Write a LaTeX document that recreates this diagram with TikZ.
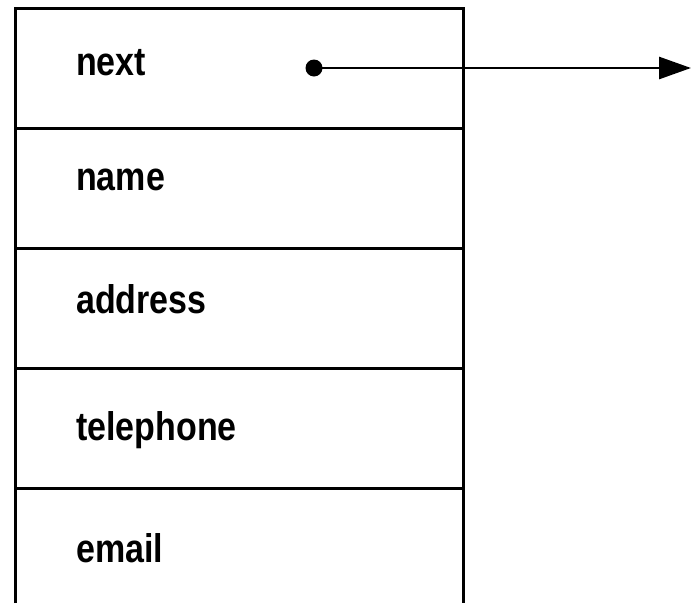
\documentclass[tikz,border=0pt]{standalone}
\usepackage{fontspec}
\setmainfont{Liberation Sans}[FakeStretch=0.85]
\usetikzlibrary{arrows.meta}
\begin{document}
\begin{tikzpicture}[x=1pt,y=-1pt,
    campo/.style={anchor=base west,inner sep=0pt,font=\fontsize{40}{48}\selectfont\bfseries},
    borde/.style={line width=2.8pt,black}]
    \useasboundingbox (0,0) rectangle (691,603);

    \def\izq{15.5}
    \def\der{463.5}
    \def\arriba{8.5}
    \def\alto{119.9}

    %Registro
    \draw[borde] (\izq,603) -- (\izq,\arriba) -- (\der,\arriba) -- (\der,603);
    \foreach \y [evaluate={\yy=\arriba+\y*\alto}] in {1,...,4}{
        \draw[borde] (\izq,\yy) -- (\der,\yy);
    }

    %Campos
    \foreach \t/\b [count=\i] in {next/75,name/190,address/313,telephone/440,email/562}{
        \node[campo] (c\i) at (76,\b) {\t};
    }

    %Puntero
    \node[circle,fill=black,inner sep=0pt,minimum size=17pt] (pt) at (314,68) {};
    \coordinate (fin) at (691,68);
    \draw[line width=2.8pt,-{Triangle[length=32pt,width=22pt]}] (pt.center) -- (fin);

\end{tikzpicture}
\end{document}
